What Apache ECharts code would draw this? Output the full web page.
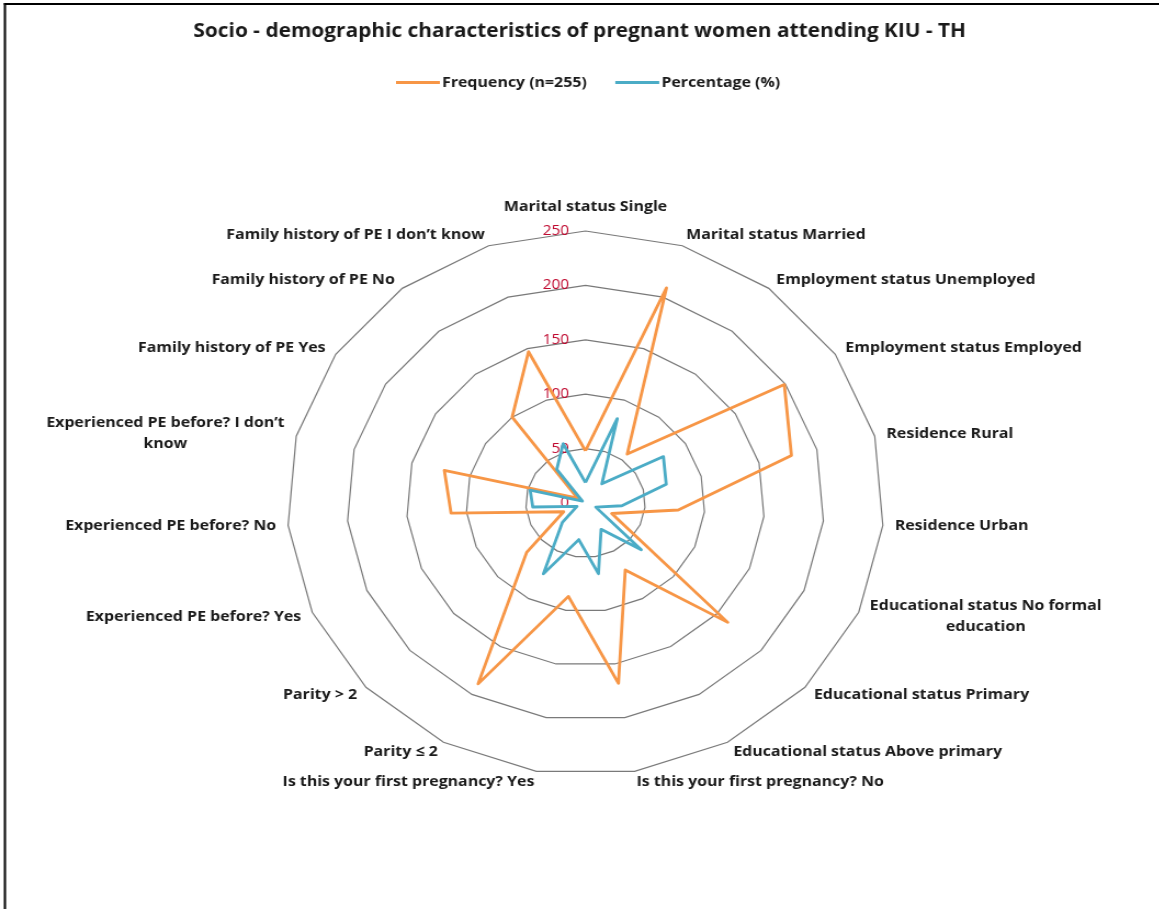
<!DOCTYPE html>
<html>
<head>
<meta charset="utf-8">
<script src="https://cdn.jsdelivr.net/npm/echarts@6/dist/echarts.min.js"></script>
<style>
html,body{margin:0;padding:0;background:#fff;overflow:hidden;}
#wrap{position:absolute;left:0;top:0;width:1159px;height:909px;overflow:hidden;background:#fff;}
#chart{position:absolute;left:0;top:0;width:1057px;height:909px;transform:scaleX(1.097);transform-origin:0 0;}
</style>
</head>
<body>
<div id="wrap"><div id="chart"></div></div>
<script>
// ---- data ----
const titleText = 'Socio - demographic characteristics of pregnant women attending KIU - TH';
const categories = [
  'Marital status Single',
  'Marital status Married',
  'Employment status Unemployed',
  'Employment status Employed',
  'Residence Rural',
  'Residence Urban',
  'Educational status No formal education',
  'Educational status Primary',
  'Educational status Above primary',
  'Is this your first pregnancy? No',
  'Is this your first pregnancy? Yes',
  'Parity \u2264 2',
  'Parity > 2',
  'Experienced PE before? Yes',
  'Experienced PE before? No',
  'Experienced PE before? I don\u2019t know',
  'Family history of PE Yes',
  'Family history of PE No',
  'Family history of PE I don\u2019t know'
];
const seriesNames = ['Frequency (n=255)', 'Percentage (%)'];
const frequency = [48, 209, 57, 199, 178, 78, 24, 162, 70, 168, 87, 189, 67, 20, 113, 122, 8, 100, 147];
const percentage = [18.8, 82.0, 22.4, 78.0, 69.8, 30.6, 9.4, 63.5, 27.5, 65.9, 34.1, 74.1, 26.3, 7.8, 44.3, 47.8, 3.1, 39.2, 57.6];
const axisMin = 0;
const axisMax = 250;
const axisSplits = 5;

// ---- layout / style ----
const wrapped = {
  'Educational status No formal education': ['Educational status No formal', 'education'],
  'Experienced PE before? I don\u2019t know': ['Experienced PE before? I don\u2019t', 'know']
};
const nameGaps = [17, 11, 11, 11, 11, 11, 11, 11, 11, 11, 11, 11, 11, 11, 11, 11, 11, 11, 11];
const FONT = '"Open Sans", "Noto Sans", sans-serif';
const LABEL_SIZE = 14.5;

// ECharts lays radar indicators counter-clockwise; the reference runs clockwise,
// so keep the first category on top and feed the rest in reverse order.
const order = [0];
for (let i = categories.length - 1; i >= 1; i--) order.push(i);

const chart = echarts.init(document.getElementById('chart'), null, {renderer: 'canvas'});

const indicators = order.map(function (i) {
  const ind = {name: categories[i], min: axisMin, max: axisMax, nameGap: nameGaps[i]};
  if (i === 0) {
    ind.axisLabel = {show: true};
  }
  return ind;
});
const freqOrdered = order.map(function (i) { return frequency[i]; });
const pctOrdered = order.map(function (i) { return percentage[i]; });

const option = {
  backgroundColor: '#ffffff',
  animation: false,
  title: {
    text: titleText,
    left: 'center',
    top: 17,
    textStyle: {fontFamily: FONT, fontSize: 19, fontWeight: 'bold', color: '#1a1a1a'}
  },
  legend: {
    data: seriesNames,
    top: 70,
    left: 356,
    itemWidth: 40,
    itemHeight: 3,
    itemGap: 26,
    icon: 'rect',
    textStyle: {fontFamily: FONT, fontSize: LABEL_SIZE, fontWeight: 'bold', color: '#1a1a1a', padding: [0, 0, 0, -3]}
  },
  graphic: [
    {type: 'line', shape: {x1: 3.6, y1: 4, x2: 1057, y2: 4}, style: {stroke: '#000', lineWidth: 2}},
    {type: 'line', shape: {x1: 4.5, y1: 3, x2: 4.5, y2: 909}, style: {stroke: '#000', lineWidth: 2}}
  ],
  radar: {
    center: [533.7, 503],
    radius: 272,
    startAngle: 90,
    splitNumber: axisSplits,
    shape: 'polygon',
    indicator: indicators,
    axisName: {
      fontFamily: FONT,
      fontSize: LABEL_SIZE,
      fontWeight: 'bold',
      color: '#1a1a1a',
      formatter: function (name) {
        if (wrapped[name]) {
          return wrapped[name].map(function (s) { return '{c|' + s + '}'; }).join('\n');
        }
        return name;
      },
      rich: {
        c: {align: 'center', fontFamily: FONT, fontSize: LABEL_SIZE, fontWeight: 'bold', color: '#1a1a1a', lineHeight: 21}
      }
    },
    axisLine: {show: false},
    axisTick: {show: false},
    axisLabel: {show: false, color: '#C00A30', fontFamily: FONT, fontSize: 14, margin: 15},
    splitLine: {show: true, lineStyle: {color: '#7a7a7a', width: 1.2}},
    splitArea: {show: false}
  },
  series: [{
    type: 'radar',
    symbol: 'none',
    data: [
      {name: seriesNames[0], value: freqOrdered, lineStyle: {color: '#F79646', width: 2.8}, itemStyle: {color: '#F79646'}},
      {name: seriesNames[1], value: pctOrdered, lineStyle: {color: '#4BACC6', width: 2.8}, itemStyle: {color: '#4BACC6'}}
    ]
  }]
};
chart.setOption(option);
</script>
</body>
</html>
